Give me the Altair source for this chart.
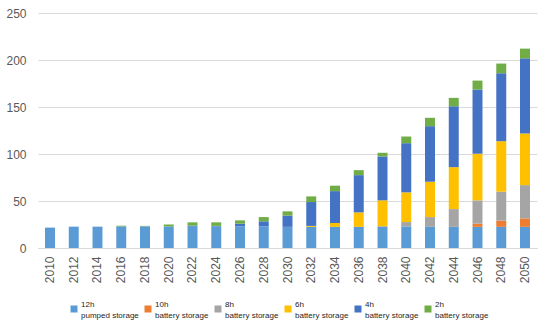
import altair as alt
import pandas as pd

years = [str(y) for y in range(2010, 2051, 2)]
series = ["12h|pumped storage", "10h|battery storage", "8h|battery storage",
          "6h|battery storage", "4h|battery storage", "2h|battery storage"]
colors = ["#5B9BD5", "#ED7D31", "#A5A5A5", "#FFC000", "#4472C4", "#70AD47"]

pumped = [21.7, 22.7, 22.7, 23.0, 23.0, 23.0, 23.3, 23.0, 23.0, 23.0, 22.5,
          22.5, 22.5, 22.5, 23.0, 23.0, 22.5, 22.5, 22.5, 22.5, 22.5]
h10 = [0, 0, 0, 0, 0, 0, 0, 0, 0, 0, 0,
       0, 0, 0, 0, 0, 0, 0, 3.4, 6.6, 9.0]
h8 = [0, 0, 0, 0, 0, 0, 0, 0, 0, 0, 0,
      0, 0, 0, 0, 4.6, 10.4, 18.9, 24.8, 30.8, 35.4]
h6 = [0, 0, 0, 0, 0, 0, 0, 0, 0, 0, 0,
      1.0, 4.1, 15.4, 27.7, 31.6, 37.6, 44.6, 49.6, 53.7, 54.9]
h4 = [0, 0, 0, 0, 0, 0, 0.5, 0.5, 2.9, 5.4, 11.9,
      25.4, 33.9, 39.6, 46.7, 52.3, 59.1, 64.8, 68.3, 72.3, 80.0]
h2 = [0, 0, 0, 0.7, 0.5, 2.0, 3.5, 3.8, 3.5, 4.5, 4.6,
      6.0, 5.8, 5.3, 3.9, 7.1, 8.9, 8.9, 9.5, 10.3, 10.3]

rows = []
for si, (name, vals) in enumerate(zip(series, [pumped, h10, h8, h6, h4, h2])):
    for y, v in zip(years, vals):
        rows.append({"year": y, "series": name, "value": v, "idx": si})
df = pd.DataFrame(rows)

chart = alt.Chart(df).mark_bar().encode(
    x=alt.X("year:N", title=None, sort=years,
            scale=alt.Scale(paddingInner=0.58, paddingOuter=0.295),
            axis=alt.Axis(labelAngle=-90, labelFontSize=12, labelColor="#595959",
                          labelFont="Liberation Sans", ticks=False, labelPadding=8,
                          domainColor="#d9d9d9", domainWidth=1)),
    y=alt.Y("value:Q", title=None, stack="zero",
            scale=alt.Scale(domain=[0, 250]),
            axis=alt.Axis(values=[0, 50, 100, 150, 200, 250], labelFontSize=12,
                          labelColor="#595959", labelFont="Liberation Sans",
                          ticks=False, domain=False, labelPadding=12,
                          gridColor="#d9d9d9", gridWidth=1)),
    color=alt.Color("series:N", scale=alt.Scale(domain=series, range=colors),
                    legend=alt.Legend(title=None, orient="none", legendX=32, legendY=292,
                                      direction="horizontal", columns=6,
                                      symbolType="square", symbolSize=49,
                                      symbolStrokeWidth=0,
                                      labelFontSize=8, labelColor="#262626",
                                      labelFont="Liberation Sans",
                                      labelBaseline="bottom",
                                      labelExpr="split(datum.label, '|')",
                                      labelOffset=3, columnPadding=5)),
    order=alt.Order("idx:Q", sort="ascending"),
).properties(
    width=499, height=235,
    autosize=alt.AutoSizeParams(type="none"),
    padding={"left": 38, "top": 13, "right": 4, "bottom": 76},
).configure(style={"guide-label": {"lineHeight": 11}}).configure_view(stroke=None)

chart.save("out.html", embed_options={"renderer": "svg", "actions": False})
